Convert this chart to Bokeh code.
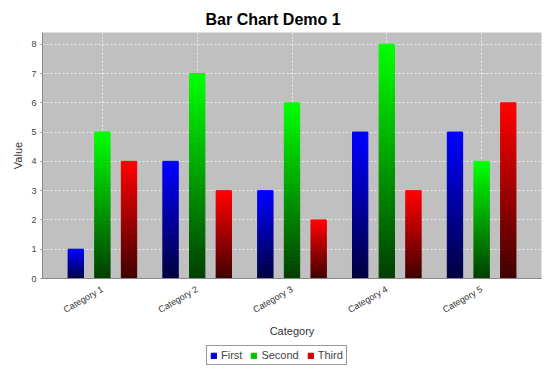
from math import pi
from bokeh.plotting import figure
from bokeh.layouts import column
from bokeh.models import ColumnDataSource, Range1d, FixedTicker, Legend, LegendItem
from bokeh.embed import file_html
from bokeh.resources import INLINE

# ---- data ----
categories = ["Category 1", "Category 2", "Category 3", "Category 4", "Category 5"]
series_names = ["First", "Second", "Third"]
first = [1, 4, 3, 5, 5]
second = [5, 7, 6, 8, 4]
third = [4, 3, 2, 3, 6]
y_ticks = [0, 1, 2, 3, 4, 5, 6, 7, 8]

series_values = [first, second, third]
top_colors = [(0, 0, 255), (0, 255, 0), (255, 0, 0)]
bottom_colors = [(0, 0, 64), (0, 64, 0), (64, 0, 0)]
legend_colors = ["#0000D2", "#00C000", "#D20000"]

FONT = "Liberation Sans"
N_SLICES = 48
BAR_W = 0.162
STEP = 0.281
W = 550

cat_pos = list(range(1, len(categories) + 1))

p = figure(width=W, height=340,
           x_range=Range1d(0.3684, 5.6316), y_range=Range1d(0, 8.4),
           output_backend="svg", toolbar_location=None,
           min_border_left=42, min_border_right=9, min_border_top=32, min_border_bottom=60,
           background_fill_color="#C0C0C0", border_fill_color="white",
           outline_line_color=None)

# title
p.title.text = "Bar Chart Demo 1"
p.title.text_font = FONT
p.title.text_font_size = "16px"
p.title.text_font_style = "bold"
p.title.text_color = "black"
p.title.align = "left"
p.title.offset = 163

# gradient bars: stacked slices from dark (bottom) to bright (top)
for s, vals in enumerate(series_values):
    xs, bots, tops, cols = [], [], [], []
    off = (s - 1) * STEP
    c0, c1 = bottom_colors[s], top_colors[s]
    for i, v in enumerate(vals):
        for k in range(N_SLICES):
            t = k / (N_SLICES - 1)
            col = tuple(int(round(c0[j] + (c1[j] - c0[j]) * t)) for j in range(3))
            xs.append(cat_pos[i] + off)
            bots.append(v * k / N_SLICES)
            tops.append(v * (k + 1) / N_SLICES)
            cols.append("#%02x%02x%02x" % col)
    src = ColumnDataSource(dict(x=xs, bottom=bots, top=tops, color=cols))
    p.vbar(x="x", bottom="bottom", top="top", width=BAR_W, fill_color="color",
           line_color="color", line_width=1, source=src)

# axes
p.xaxis.ticker = FixedTicker(ticks=cat_pos)
p.xaxis.major_label_overrides = {c: n for c, n in zip(cat_pos, categories)}
p.xaxis.major_label_orientation = pi / 6
p.xaxis.major_label_text_font = FONT
p.xaxis.major_label_text_font_size = "9px"
p.xaxis.major_label_text_color = "#333333"
p.xaxis.major_tick_line_color = None
p.xaxis.minor_tick_line_color = None
p.xaxis.axis_line_color = "#888888"
p.xaxis.axis_label = "Category"
p.xaxis.axis_label_text_font = FONT
p.xaxis.axis_label_text_font_size = "11px"
p.xaxis.axis_label_text_font_style = "normal"
p.xaxis.axis_label_text_color = "#333333"
p.xaxis.major_label_standoff = 4
p.xaxis.axis_label_standoff = 3

p.yaxis.ticker = FixedTicker(ticks=y_ticks)
p.yaxis.major_label_text_font = FONT
p.yaxis.major_label_text_font_size = "9px"
p.yaxis.major_label_text_color = "#444444"
p.yaxis.major_tick_line_color = "#888888"
p.yaxis.major_tick_out = 2
p.yaxis.major_tick_in = 0
p.yaxis.minor_tick_line_color = None
p.yaxis.axis_line_color = "#888888"
p.yaxis.axis_label = "Value"
p.yaxis.axis_label_text_font = FONT
p.yaxis.axis_label_text_font_size = "11px"
p.yaxis.axis_label_text_font_style = "normal"
p.yaxis.axis_label_text_color = "#333333"
p.yaxis.major_label_standoff = 4
p.yaxis.axis_label_standoff = 4

# grids
for g in (p.xgrid, p.ygrid):
    g.grid_line_color = "white"
    g.grid_line_alpha = 0.7
    g.grid_line_dash = "2 2"
    g.grid_line_width = 1
p.ygrid.ticker = FixedTicker(ticks=y_ticks)

# legend strip below the chart (its frame is aligned with the chart frame)
lf = figure(width=W, height=30, x_range=Range1d(0, 1), y_range=Range1d(0, 1),
            output_backend="svg", toolbar_location=None,
            x_axis_type=None, y_axis_type=None,
            min_border=0, outline_line_color=None,
            background_fill_color="white", border_fill_color="white")
lf.xgrid.visible = False
lf.ygrid.visible = False
items = []
nan = float("nan")
for s, name in enumerate(series_names):
    r = lf.vbar(x=[nan], top=[nan], width=0.1, fill_color=legend_colors[s],
                line_color=legend_colors[s])
    items.append(LegendItem(label=name, renderers=[r]))
legend = Legend(items=items, orientation="horizontal", location=(164, 5),
                label_text_font=FONT, label_text_font_size="11px",
                label_height=12, glyph_height=7, glyph_width=7,
                padding=3, spacing=8, label_standoff=4, margin=0,
                border_line_color="#333333", border_line_width=1,
                background_fill_color="white", background_fill_alpha=1)
lf.add_layout(legend)

layout = column(p, lf, spacing=0)
open("out.html", "w").write(file_html(layout, INLINE))
